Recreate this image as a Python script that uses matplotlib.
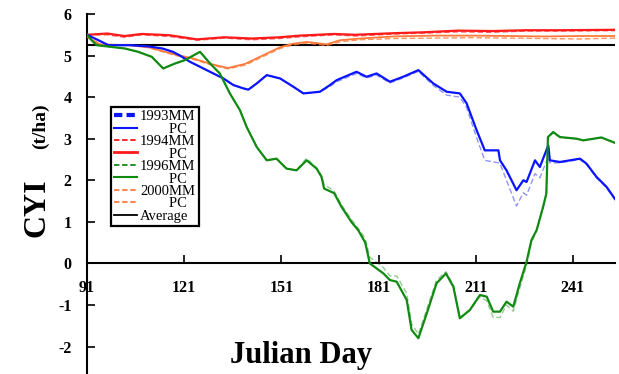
import matplotlib
matplotlib.use("Agg")
import matplotlib.pyplot as plt
from matplotlib.lines import Line2D

# ---------------- data ----------------
day_1993 = [91, 94.5, 97.6, 104, 110, 114.3, 117.5, 119.7, 122.8, 125.9, 130, 133.1, 136.2,
            139.3, 140.8, 143.4, 146.5, 150.6, 154.7, 157.8, 162.9, 166, 168.1, 174.2, 177.3,
            180.4, 184.5, 188.6, 193.3, 197.9, 202, 206.1, 208.2, 211.3, 213.8, 218, 218.5,
            220.5, 223.6, 225.7, 226.7, 229.3, 230.8, 233.4, 233.9, 237, 243.2, 245.2, 248.3,
            251.4, 254]
pc_1993 = [5.5, 5.37, 5.25, 5.25, 5.22, 5.17, 5.09, 5.0, 4.85, 4.73, 4.57, 4.45, 4.29,
           4.21, 4.18, 4.33, 4.53, 4.45, 4.25, 4.09, 4.13, 4.29, 4.41, 4.61, 4.49,
           4.57, 4.37, 4.49, 4.65, 4.33, 4.13, 4.09, 3.85, 3.20, 2.72, 2.72, 2.48,
           2.24, 1.76, 2.00, 1.96, 2.48, 2.32, 2.84, 2.48, 2.44, 2.52, 2.40, 2.08,
           1.84, 1.55]
mm_1993 = [5.5, 5.37, 5.25, 5.25, 5.22, 5.17, 5.09, 5.0, 4.85, 4.73, 4.57, 4.45, 4.29,
           4.21, 4.18, 4.33, 4.53, 4.45, 4.25, 4.09, 4.12, 4.26, 4.37, 4.57, 4.46,
           4.53, 4.34, 4.46, 4.62, 4.28, 4.05, 4.00, 3.75, 3.02, 2.48, 2.42, 2.40,
           2.00, 1.38, 1.70, 1.64, 2.16, 2.06, 2.56, 2.42, 2.42, 2.50, 2.38, 2.06,
           1.82, 1.53]

day_1994 = [91, 97.3, 102.6, 107.9, 116.4, 124.9, 133.4, 141.9, 150.4, 156.7, 167.3, 173.7,
            186.4, 194.9, 205.5, 216.1, 226.7, 237.3, 254]
pc_1994 = [5.5, 5.53, 5.47, 5.52, 5.49, 5.39, 5.44, 5.41, 5.44, 5.48, 5.52, 5.50,
           5.54, 5.56, 5.60, 5.59, 5.61, 5.61, 5.62]
mm_1994 = [5.5, 5.50, 5.44, 5.50, 5.46, 5.37, 5.42, 5.38, 5.41, 5.45, 5.50, 5.47,
           5.52, 5.54, 5.57, 5.56, 5.59, 5.59, 5.60]

day_1996 = [91, 92.4, 94, 102.7, 106.8, 111, 114.5, 118.2, 121.2, 125.9, 129, 132, 135.1,
            138.2, 140.3, 143.4, 146.5, 149.5, 152.6, 155.7, 158.8, 161.9, 163.4, 164.2,
            167.3, 169.5, 172.6, 174.8, 176.9, 178.3, 182.5, 184.5, 186.6, 189.7, 191.2,
            193.3, 195.9, 198.9, 201.8, 204.1, 206.1, 209.2, 212.3, 214.4, 216.4, 218.5,
            220.5, 222.6, 224.6, 226.7, 228.2, 229.8, 231.8, 232.8, 233.3, 234.9, 237,
            242.1, 244.2, 249.8, 254]
pc_1996 = [5.5, 5.37, 5.25, 5.17, 5.09, 4.97, 4.69, 4.81, 4.89, 5.09, 4.81, 4.57, 4.09,
           3.69, 3.28, 2.80, 2.48, 2.52, 2.28, 2.24, 2.48, 2.28, 2.08, 1.80,
           1.69, 1.37, 1.00, 0.79, 0.50, 0.0, -0.24, -0.40, -0.44, -0.88, -1.60,
           -1.80, -1.20, -0.48, -0.24, -0.56, -1.32, -1.12, -0.76, -0.80, -1.16, -1.16,
           -0.92, -1.04, -0.48, 0.04, 0.56, 0.80, 1.36, 1.68, 3.04, 3.16, 3.04,
           3.00, 2.96, 3.03, 2.90]
mm_1996 = [5.5, 5.37, 5.25, 5.17, 5.09, 4.97, 4.69, 4.81, 4.89, 5.09, 4.81, 4.57, 4.09,
           3.69, 3.28, 2.80, 2.48, 2.52, 2.28, 2.24, 2.53, 2.30, 2.12, 1.90,
           1.74, 1.42, 1.06, 0.84, 0.60, 0.15, -0.10, -0.30, -0.30, -0.72, -1.45,
           -1.70, -1.10, -0.40, -0.20, -0.52, -1.30, -1.12, -0.80, -0.90, -1.30, -1.30,
           -1.00, -1.15, -0.60, -0.05, 0.50, 0.78, 1.34, 1.66, 3.02, 3.14, 3.03,
           3.00, 2.96, 3.02, 2.90]

day_2000 = [91, 95, 104, 110, 118.5, 123.8, 129.1, 134.5, 139.8, 144.4, 150.6, 154.2, 158.8,
            165, 169.1, 175.3, 185.5, 197.9, 210, 222, 232, 243, 254]
pc_2000 = [5.45, 5.27, 5.25, 5.20, 5.02, 4.93, 4.80, 4.70, 4.80, 4.97, 5.20, 5.28, 5.33,
           5.27, 5.37, 5.41, 5.46, 5.48, 5.48, 5.47, 5.46, 5.47, 5.47]
mm_2000 = [5.45, 5.27, 5.25, 5.19, 5.00, 4.91, 4.78, 4.68, 4.77, 4.94, 5.17, 5.25, 5.30,
           5.24, 5.33, 5.38, 5.41, 5.42, 5.43, 5.42, 5.41, 5.40, 5.42]

avg_cyi = 5.26

x_ticks = [91, 121, 151, 181, 211, 241]
y_ticks = [-2, -1, 0, 1, 2, 3, 4, 5, 6]
x_range = (91, 254)
y_range = (-2.66, 6)

legend_labels = ["1993MM", "        PC", "1994MM", "        PC", "1996MM", "        PC",
                 "2000MM", "        PC", "Average"]

# ---------------- styling ----------------
BLUE = "#0a14ff"
RED = "#ff1a1a"
GREEN = "#118a11"
ORANGE = "#ff7a3a"
SERIF = ["Liberation Serif", "DejaVu Serif"]

fig = plt.figure(figsize=(6.19, 3.74), dpi=100)
ax = fig.add_axes([87 / 619, 0, (615 - 87) / 619, (374 - 14) / 374])
ax.set_xlim(*x_range)
ax.set_ylim(*y_range)

ax.axhline(avg_cyi, color="black", lw=1.5, zorder=1)

ax.plot(day_1994, mm_1994, color=RED, lw=1.0, ls=(0, (4, 2)), alpha=0.7, zorder=2)
ax.plot(day_1994, pc_1994, color=RED, lw=1.6, zorder=3)
ax.plot(day_2000, mm_2000, color=ORANGE, lw=1.0, ls=(0, (4, 2)), alpha=0.8, zorder=2)
ax.plot(day_2000, pc_2000, color=ORANGE, lw=1.3, zorder=3)
ax.plot(day_1993, mm_1993, color=BLUE, lw=1.0, ls=(0, (4, 2)), alpha=0.45, zorder=2)
ax.plot(day_1993, pc_1993, color=BLUE, lw=1.6, zorder=3)
ax.plot(day_1996, mm_1996, color=GREEN, lw=1.0, ls=(0, (4, 2)), alpha=0.45, zorder=2)
ax.plot(day_1996, pc_1996, color=GREEN, lw=1.6, zorder=3)

for s in ("top", "right"):
    ax.spines[s].set_visible(False)
ax.spines["bottom"].set_position(("data", 0))
ax.spines["left"].set_linewidth(1.5)
ax.spines["bottom"].set_linewidth(1.5)

ax.set_xticks(x_ticks)
ax.set_yticks(y_ticks)
ax.set_xticklabels([str(t) for t in x_ticks])
ax.set_yticklabels([str(t) for t in y_ticks])
ax.tick_params(axis="x", direction="in", length=6, width=1.2, pad=12)
ax.tick_params(axis="y", direction="in", length=6, width=1.2, pad=11)
for lab in ax.get_xticklabels() + ax.get_yticklabels():
    lab.set_fontfamily(SERIF)
    lab.set_fontweight("bold")
    lab.set_fontsize(11.5)

fig.text(44 / 619, 1 - 208 / 374, "CYI", rotation=90, rotation_mode="anchor",
         ha="center", va="baseline", fontsize=23, fontweight="bold", family=SERIF)
fig.text(45 / 619, 1 - 126 / 374, "(t/ha)", rotation=90, rotation_mode="anchor",
         ha="center", va="baseline", fontsize=14, fontweight="bold", family=SERIF)
fig.text(301 / 619, 1 - 355 / 374, "Julian Day", ha="center", va="center",
         fontsize=22, fontweight="bold", family=SERIF)

handles = [
    Line2D([], [], color=BLUE, lw=3, ls=(0, (2, 1))),
    Line2D([], [], color=BLUE, lw=1.5),
    Line2D([], [], color=RED, lw=1.3, ls=(0, (3, 1.5))),
    Line2D([], [], color=RED, lw=2),
    Line2D([], [], color=GREEN, lw=1.3, ls=(0, (3, 1.5))),
    Line2D([], [], color=GREEN, lw=1.5),
    Line2D([], [], color=ORANGE, lw=1.3, ls=(0, (3, 1.5))),
    Line2D([], [], color=ORANGE, lw=1.3, ls=(0, (3, 1.5))),
    Line2D([], [], color="black", lw=1.3),
]
leg = ax.legend(handles, legend_labels, loc="upper left",
                bbox_to_anchor=(111 / 619, 1 - 107 / 374), bbox_transform=fig.transFigure,
                prop={"family": SERIF, "size": 10.5}, frameon=True, fancybox=False,
                edgecolor="black", framealpha=1, borderpad=0.2, labelspacing=-0.05,
                handlelength=1.6, handletextpad=0.2, borderaxespad=0)
leg.get_frame().set_linewidth(1.6)

fig.savefig("out.png", dpi=100)
